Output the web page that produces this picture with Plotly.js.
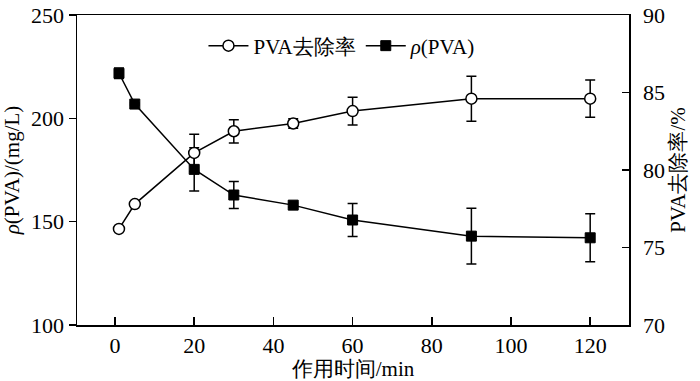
<!DOCTYPE html>
<html>
<head>
<meta charset="utf-8">
<script src="https://cdn.plot.ly/plotly-3.0.1.min.js"></script>
<style>html,body{margin:0;padding:0;background:#fff;}#chart{width:700px;height:381px;}</style>
</head>
<body>
<div id="chart"></div>
<script>
const time = [1, 5, 20, 30, 45, 60, 90, 120];
const removalRate = [76.2, 77.8, 81.1, 82.5, 83.0, 83.8, 84.6, 84.6];
const removalErr = [0.15, 0.1, 1.2, 0.75, 0.3, 0.9, 1.45, 1.2];
const concentration = [221.8, 206.9, 175.3, 162.9, 158.0, 150.8, 143.0, 142.2];
const concErr = [2.5, 0.5, 10.5, 6.5, 1.0, 8.0, 13.5, 11.6];
const xTicks = [0, 20, 40, 60, 80, 100, 120];
const yTicks = [100, 150, 200, 250];
const y2Ticks = [70, 75, 80, 85, 90];

const FONT = 'Liberation Serif';

const traces = [
  {
    x: time, y: removalRate, yaxis: 'y2', name: 'PVA去除率',
    mode: 'lines+markers', type: 'scatter',
    line: {color: '#000', width: 1.5},
    marker: {symbol: 'circle', size: 11, color: '#fff', line: {color: '#000', width: 1.5}},
    error_y: {type: 'data', array: removalErr, visible: true, color: '#000', thickness: 1.5, width: 5}
  },
  {
    x: time, y: concentration, yaxis: 'y', name: '<i>ρ</i>(PVA)',
    mode: 'lines+markers', type: 'scatter',
    line: {color: '#000', width: 1.5},
    marker: {symbol: 'square', size: 10, color: '#000', line: {color: '#000', width: 1}},
    error_y: {type: 'data', array: concErr, visible: true, color: '#000', thickness: 1.5, width: 5}
  }
];

const layout = {
  width: 700, height: 381,
  margin: {l: 77, r: 71, t: 15, b: 56},
  paper_bgcolor: '#fff', plot_bgcolor: '#fff',
  font: {family: FONT, size: 21, color: '#000'},
  showlegend: true,
  legend: {orientation: 'h', x: 0.48, xanchor: 'center', y: 0.9, yanchor: 'middle',
           font: {family: FONT, size: 21, color: '#000'}, bgcolor: 'rgba(0,0,0,0)', itemwidth: 40, tracegroupgap: 20},
  xaxis: {
    range: [-9.6, 129.8], tickvals: xTicks, ticktext: xTicks.map(String),
    ticks: 'inside', ticklen: 8, tickwidth: 1.5, tickcolor: '#000',
    showline: true, linecolor: '#000', linewidth: 1.5, mirror: true,
    showgrid: false, zeroline: false,
    title: {text: '作用时间/min', font: {family: FONT, size: 21}, standoff: 4},
    tickfont: {family: FONT, size: 22}
  },
  yaxis: {
    range: [100, 250], tickvals: yTicks, ticktext: yTicks.map(String),
    ticks: 'outside', ticklen: 7, tickwidth: 1.5, tickcolor: '#000',
    showline: true, linecolor: '#000', linewidth: 1.5,
    showgrid: false, zeroline: false,
    title: {text: '<i>ρ</i>(PVA)/(mg/L)', font: {family: FONT, size: 21}, standoff: 6},
    tickfont: {family: FONT, size: 22}
  },
  yaxis2: {
    overlaying: 'y', side: 'right',
    range: [70, 90], tickvals: y2Ticks, ticktext: y2Ticks.map(String),
    ticks: 'inside', ticklen: 7, tickwidth: 1.5, tickcolor: '#000',
    showline: true, linecolor: '#000', linewidth: 1.5,
    showgrid: false, zeroline: false, ticklabelstandoff: 8,
    title: {text: 'PVA去除率/%', font: {family: FONT, size: 21}, standoff: 6},
    tickfont: {family: FONT, size: 22}
  }
};

Plotly.newPlot('chart', traces, layout, {displayModeBar: false, staticPlot: true});
</script>
</body>
</html>
